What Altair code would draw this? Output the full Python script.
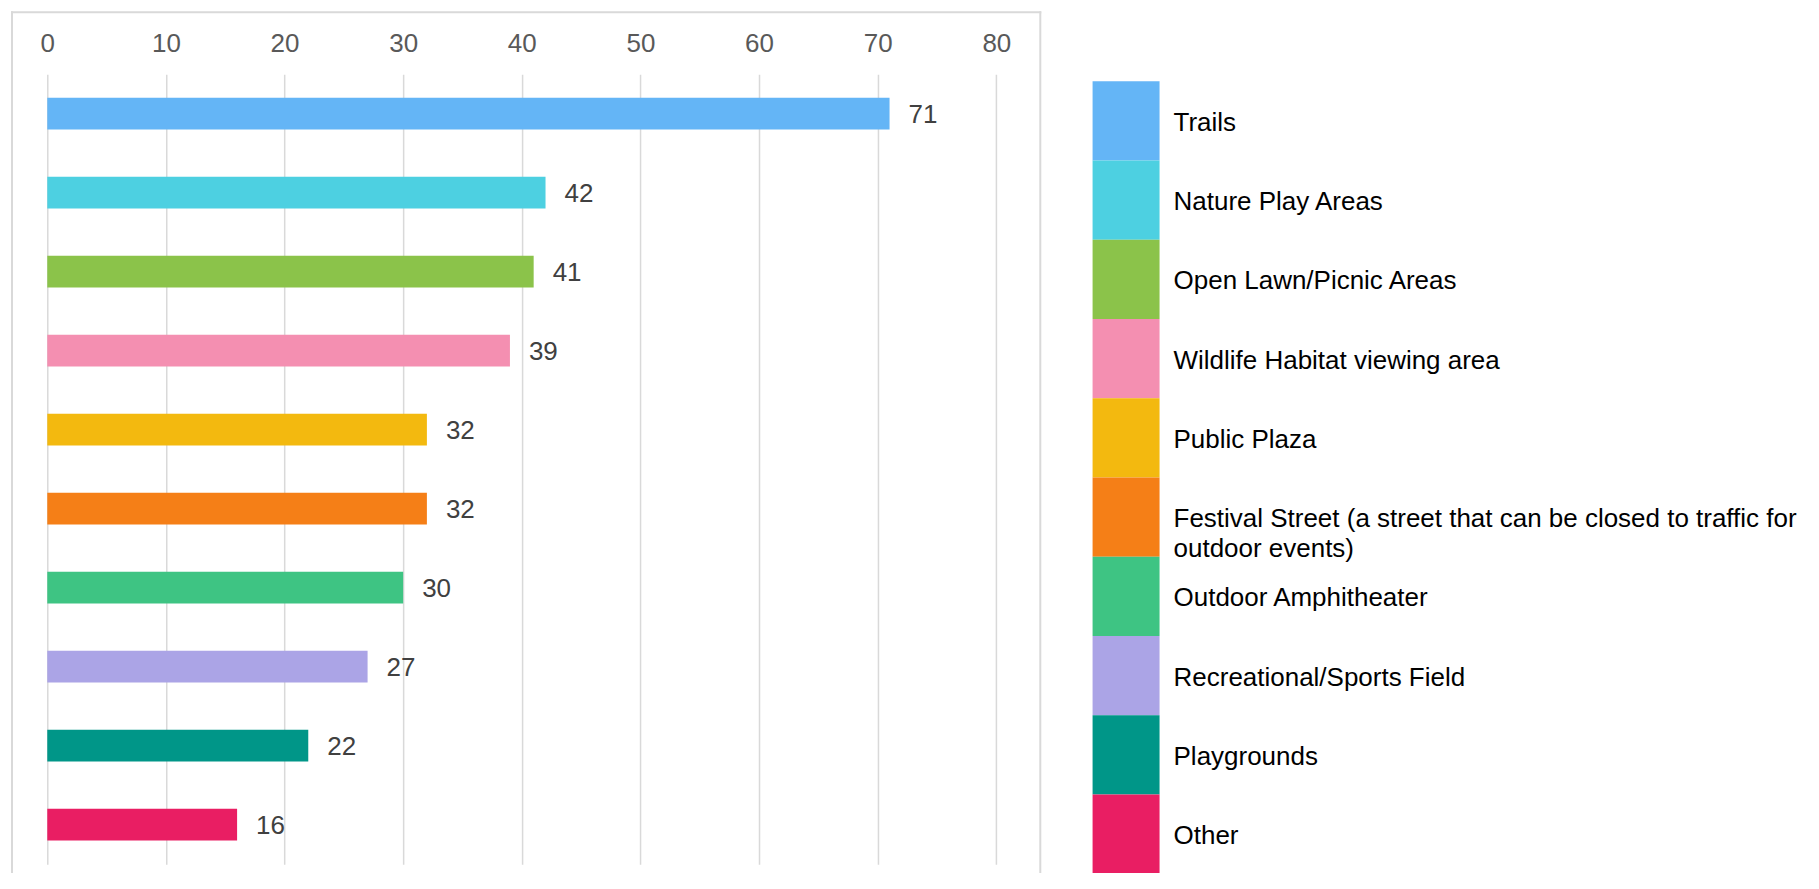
import altair as alt
import pandas as pd

# ---- data ----
categories = [
    "Trails",
    "Nature Play Areas",
    "Open Lawn/Picnic Areas",
    "Wildlife Habitat viewing area",
    "Public Plaza",
    "Festival Street (a street that can be closed to traffic for outdoor events)",
    "Outdoor Amphitheater",
    "Recreational/Sports Field",
    "Playgrounds",
    "Other",
]
legend_labels = [
    "Trails",
    "Nature Play Areas",
    "Open Lawn/Picnic Areas",
    "Wildlife Habitat viewing area",
    "Public Plaza",
    "Festival Street (a street that can be closed to traffic for\noutdoor events)",
    "Outdoor Amphitheater",
    "Recreational/Sports Field",
    "Playgrounds",
    "Other",
]
values = [71, 42, 41, 39, 32, 32, 30, 27, 22, 16]
colors = ["#64B5F6", "#4DD0E1", "#8BC34A", "#F48FB1", "#F3B90F",
          "#F57F17", "#3EC483", "#ABA4E6", "#009688", "#E91E63"]
x_ticks = [0, 10, 20, 30, 40, 50, 60, 70, 80]

df = pd.DataFrame({"category": categories, "value": values, "label": legend_labels})
frame_df = pd.DataFrame({"k": [0]})

FONT = "Liberation Sans"
GRID = "#d9d9d9"

base = alt.Chart(df)

bar_y = alt.Y("category:N", sort=categories,
              scale=alt.Scale(paddingInner=0.6, paddingOuter=0.3), axis=None)
legend_y = alt.Y("category:N", sort=categories,
                 scale=alt.Scale(range=[7, 800], paddingInner=0, paddingOuter=0), axis=None)
color = alt.Color("category:N", scale=alt.Scale(domain=categories, range=colors), legend=None)

x_enc = alt.X(
    "value:Q",
    scale=alt.Scale(domain=[0, 80], nice=False),
    axis=alt.Axis(
        orient="top", values=x_ticks, title=None, domain=False, ticks=False, tickSize=0,
        labelPadding=17.5, labelFontSize=26, labelColor="#595959", labelFont=FONT,
        labelFlush=False, labelOverlap=False,
        grid=True, gridColor=GRID, gridWidth=1.5,
    ),
)

bars = base.mark_bar().encode(x=x_enc, y=bar_y, color=color)

bar_labels = base.mark_text(
    align="left", baseline="middle", dx=19, dy=1.5, fontSize=26, color="#404040", font=FONT
).encode(x="value:Q", y=bar_y, text="value:Q")

swatches = base.mark_rect().encode(
    x=alt.value(1045.7), x2=alt.value(1112.7), y=legend_y, color=color
)

legend_text = base.mark_text(
    align="left", baseline="middle", lineBreak="\n", fontSize=26, lineHeight=30,
    dy=2, color="#000000", font=FONT
).encode(x=alt.value(1126.7), y=legend_y, text="label:N")

frame_left = alt.Chart(frame_df).mark_rule(color=GRID, strokeWidth=2).encode(
    x=alt.value(-35.3), y=alt.value(-63), y2=alt.value(830)
)
frame_right = alt.Chart(frame_df).mark_rule(color=GRID, strokeWidth=2).encode(
    x=alt.value(993.4), y=alt.value(-63), y2=alt.value(830)
)
frame_top = alt.Chart(frame_df).mark_rule(color=GRID, strokeWidth=2).encode(
    x=alt.value(-36.3), x2=alt.value(994.4), y=alt.value(-62)
)

chart = (
    alt.layer(frame_left, frame_right, frame_top, bars, bar_labels, swatches, legend_text)
    .resolve_scale(y="independent")
    .properties(
        width=949.4,
        height=790.3,
        autosize=alt.AutoSizeParams(type="none"),
        padding={"left": 39.3, "top": 66, "right": 815, "bottom": 9},
        view=alt.ViewBackground(strokeWidth=0, strokeOpacity=0),
    )
    .configure_view(strokeWidth=0, strokeOpacity=0)
    .configure(font=FONT)
)

chart.save("out.html", embed_options={"renderer": "svg", "actions": False})
